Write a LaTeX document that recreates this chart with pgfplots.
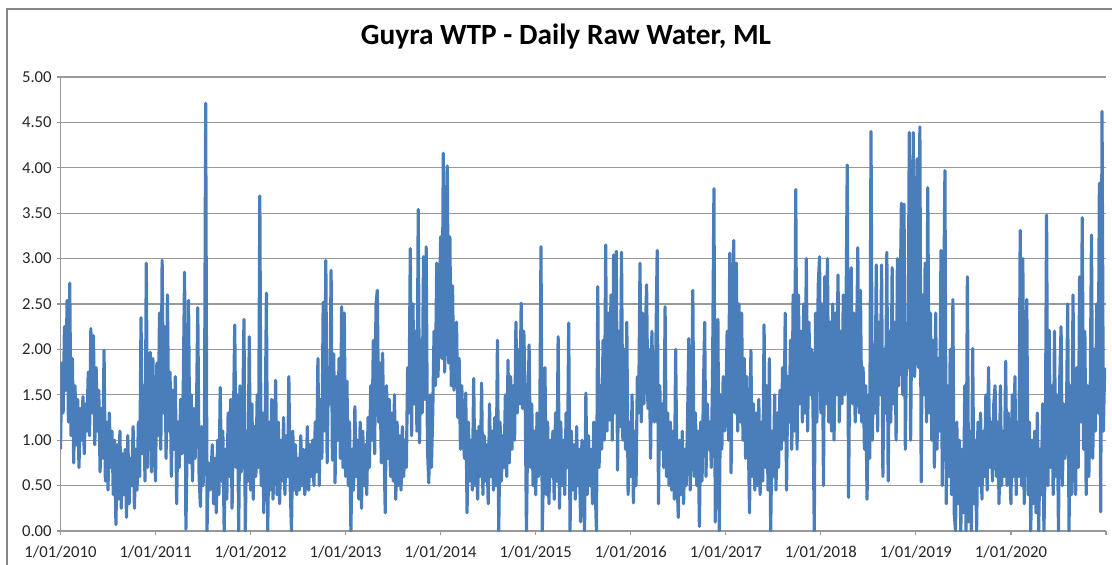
\documentclass[border=0pt]{standalone}
\usepackage{fontspec}
\setmainfont{Carlito}
\usepackage{pgfplots}
\usepackage{pgfplotstable}
\pgfplotsset{compat=1.18}
\definecolor{xlblue}{HTML}{4A7EBB}
\definecolor{xlgrid}{HTML}{999999}
\definecolor{xlborder}{HTML}{868686}

% daily raw water (ML), 6 readings a month, Jan 2010 .. Dec 2020
\pgfplotstableread[row sep=\\]{
v\\
0.90\\1.85\\1.30\\2.25\\1.55\\2.54\\
1.20\\2.73\\1.05\\1.90\\0.75\\1.60\\
0.95\\1.45\\0.70\\1.35\\1.00\\1.48\\
0.85\\1.40\\1.10\\1.75\\1.05\\2.23\\
1.30\\2.15\\0.95\\1.80\\1.10\\1.55\\
0.65\\1.35\\0.80\\1.99\\0.55\\1.20\\
0.45\\1.30\\0.70\\1.10\\0.40\\1.00\\
0.07\\0.95\\0.35\\1.10\\0.25\\0.85\\
0.40\\0.90\\0.15\\1.05\\0.30\\0.80\\
0.50\\1.15\\0.25\\0.90\\0.45\\1.20\\
0.60\\2.35\\0.85\\1.60\\0.55\\2.95\\
0.70\\1.50\\1.97\\0.65\\1.90\\1.00\\
0.55\\1.85\\1.05\\2.40\\0.90\\2.98\\
1.30\\2.25\\0.80\\2.60\\1.10\\1.75\\
0.60\\1.55\\0.90\\1.70\\0.30\\1.20\\
0.70\\1.45\\0.85\\1.60\\2.85\\0.02\\
1.00\\2.54\\0.75\\1.50\\0.55\\1.35\\
0.80\\1.30\\2.46\\0.60\\0.27\\1.15\\
0.50\\0.90\\4.71\\0.00\\0.75\\0.45\\
0.60\\0.95\\0.30\\0.80\\0.20\\1.00\\
0.40\\1.58\\0.55\\1.10\\0.00\\0.90\\
0.35\\1.30\\0.60\\1.45\\0.25\\1.20\\
2.27\\0.70\\1.50\\0.00\\1.60\\0.65\\
1.25\\2.33\\0.00\\1.10\\0.55\\2.14\\
0.45\\1.40\\0.35\\1.15\\0.60\\1.50\\
0.70\\3.69\\0.50\\1.30\\0.20\\1.05\\
2.62\\0.00\\1.20\\0.45\\1.45\\0.35\\
0.85\\1.66\\0.40\\1.20\\0.30\\1.00\\
0.55\\1.25\\0.40\\1.05\\0.60\\1.70\\
0.50\\0.00\\1.10\\0.45\\0.95\\0.40\\
0.80\\0.45\\1.05\\0.50\\0.90\\0.40\\
0.55\\1.15\\0.45\\0.95\\0.60\\1.00\\
0.50\\1.20\\0.65\\1.90\\0.50\\1.45\\
0.80\\2.52\\1.10\\2.98\\0.75\\1.80\\
1.40\\2.87\\0.78\\1.95\\0.53\\1.70\\
1.00\\1.90\\0.80\\2.47\\0.70\\2.40\\
0.60\\1.65\\0.50\\1.20\\0.00\\0.90\\
0.45\\1.37\\0.60\\1.00\\0.35\\1.20\\
0.25\\1.10\\0.50\\0.95\\0.40\\1.25\\
0.70\\1.60\\1.00\\2.10\\0.85\\2.50\\
2.65\\1.20\\1.85\\0.75\\1.96\\1.00\\
0.20\\1.60\\0.80\\1.45\\0.60\\1.30\\
0.55\\1.50\\0.35\\1.20\\0.50\\1.05\\
0.45\\1.15\\0.60\\1.00\\0.70\\1.80\\
1.30\\3.11\\1.05\\2.50\\1.40\\2.20\\
1.10\\3.54\\0.97\\2.10\\1.30\\3.02\\
1.45\\3.13\\0.90\\0.53\\1.50\\0.70\\
1.30\\2.20\\1.60\\2.95\\1.70\\2.40\\
3.24\\1.90\\4.16\\1.75\\2.60\\4.02\\
1.85\\3.24\\1.60\\2.70\\1.55\\2.20\\
2.30\\1.25\\1.90\\0.90\\1.60\\1.10\\
0.80\\1.52\\0.20\\1.20\\0.55\\1.00\\
0.45\\1.68\\0.50\\1.10\\0.35\\1.15\\
0.60\\1.63\\0.40\\1.05\\0.55\\0.95\\
0.30\\1.40\\0.60\\1.10\\0.45\\1.25\\
0.50\\2.10\\0.00\\1.20\\0.55\\1.05\\
0.70\\1.50\\0.60\\1.88\\0.75\\1.70\\
0.90\\1.60\\1.00\\2.30\\1.30\\2.00\\
1.40\\2.51\\1.35\\2.20\\1.50\\0.00\\
1.20\\2.05\\0.70\\1.40\\0.50\\1.10\\
0.40\\1.30\\0.60\\1.05\\3.13\\0.00\\
0.80\\1.80\\0.40\\1.20\\0.30\\1.00\\
0.60\\1.10\\0.35\\1.30\\0.55\\2.14\\
0.25\\1.20\\0.50\\1.00\\0.40\\1.30\\
0.70\\2.29\\0.00\\1.10\\0.45\\0.95\\
0.35\\1.15\\0.50\\0.90\\0.10\\1.00\\
0.60\\0.00\\1.52\\0.40\\1.05\\0.50\\
0.90\\0.30\\1.20\\0.50\\0.00\\2.69\\
0.70\\1.60\\0.90\\2.10\\1.00\\3.15\\
1.10\\2.40\\1.22\\2.60\\1.00\\3.04\\
1.30\\3.08\\0.67\\2.20\\1.15\\3.07\\
1.00\\2.00\\0.90\\2.30\\0.40\\1.20\\
0.60\\1.50\\0.31\\1.10\\0.50\\1.70\\
1.30\\2.95\\1.20\\2.40\\1.40\\2.10\\
2.71\\1.35\\2.00\\0.80\\2.20\\1.50\\
1.20\\2.00\\3.09\\0.30\\1.60\\0.90\\
1.40\\0.70\\2.47\\0.60\\1.30\\0.50\\
1.20\\0.45\\1.10\\0.35\\2.00\\0.60\\
0.15\\1.00\\0.40\\1.10\\0.30\\0.90\\
0.50\\1.20\\2.12\\0.45\\1.00\\2.65\\
0.60\\1.30\\0.50\\1.10\\0.05\\1.20\\
0.55\\1.50\\2.30\\0.60\\1.40\\0.90\\
1.20\\0.70\\1.80\\3.77\\0.10\\1.30\\
2.33\\0.00\\1.50\\0.90\\1.70\\1.10\\
1.40\\2.20\\1.00\\3.06\\0.64\\2.40\\
3.20\\1.30\\2.95\\1.10\\2.50\\1.20\\
2.40\\1.00\\1.90\\0.80\\1.70\\1.05\\
0.20\\1.99\\0.60\\1.40\\0.45\\1.30\\
0.50\\1.45\\0.40\\1.20\\0.55\\2.27\\
0.70\\1.60\\0.45\\1.90\\0.00\\1.10\\
0.60\\1.50\\0.45\\1.30\\0.70\\1.55\\
0.90\\1.80\\1.00\\2.40\\0.45\\1.70\\
1.20\\2.10\\0.90\\2.60\\1.10\\3.76\\
0.90\\2.60\\1.40\\2.20\\1.20\\2.50\\
1.30\\3.00\\1.10\\2.30\\1.50\\2.00\\
1.40\\0.00\\2.40\\1.20\\2.70\\3.02\\
1.30\\2.50\\0.50\\2.80\\1.40\\3.00\\
1.20\\2.30\\1.10\\2.50\\1.00\\2.40\\
1.50\\2.82\\1.20\\2.20\\1.40\\2.60\\
1.50\\2.30\\4.03\\0.37\\2.10\\2.90\\
1.40\\2.40\\1.20\\2.00\\3.12\\1.30\\
2.65\\1.20\\1.80\\0.90\\1.60\\0.35\\
1.50\\0.80\\4.40\\1.00\\2.00\\1.30\\
2.93\\1.10\\2.30\\1.50\\2.93\\0.60\\
2.00\\1.30\\3.07\\0.55\\2.20\\1.20\\
2.90\\1.40\\2.30\\1.00\\3.00\\1.60\\
2.40\\3.61\\1.50\\3.60\\0.90\\2.20\\
1.80\\4.39\\1.00\\2.60\\4.39\\1.70\\
2.20\\4.10\\1.80\\4.45\\0.54\\2.60\\
1.50\\2.95\\1.20\\3.78\\1.30\\2.40\\
1.00\\2.10\\0.70\\2.40\\0.90\\1.90\\
1.10\\3.09\\0.50\\2.40\\3.97\\0.30\\
1.60\\0.60\\2.00\\0.40\\2.55\\0.20\\
0.00\\1.20\\0.30\\1.00\\0.00\\0.90\\
0.20\\1.60\\0.00\\2.80\\0.10\\1.10\\
0.00\\2.01\\0.30\\1.00\\0.00\\1.20\\
0.50\\1.30\\0.35\\1.10\\0.60\\1.50\\
0.45\\1.80\\0.70\\1.20\\0.55\\1.40\\
1.60\\0.60\\1.20\\0.30\\1.60\\0.50\\
1.10\\0.60\\1.87\\0.50\\1.30\\0.70\\
0.30\\1.50\\0.60\\1.70\\0.40\\1.20\\
0.60\\3.31\\0.50\\3.00\\0.30\\1.80\\
2.55\\0.40\\1.20\\0.00\\1.00\\0.30\\
1.10\\0.20\\1.30\\0.00\\0.90\\0.40\\
1.40\\0.00\\0.80\\3.48\\0.50\\2.21\\
0.70\\1.60\\0.40\\2.20\\0.60\\1.50\\
0.00\\1.70\\2.25\\0.50\\1.40\\0.80\\
1.20\\2.50\\0.00\\1.60\\0.40\\2.60\\
1.00\\0.40\\1.80\\0.70\\2.80\\1.20\\
3.45\\0.90\\2.20\\0.40\\1.60\\0.60\\
1.40\\3.26\\0.80\\2.00\\1.10\\2.50\\
1.30\\3.83\\0.21\\4.62\\1.10\\1.80\\
}\rawwater

\begin{document}
\begin{tikzpicture}
\useasboundingbox (-36.3pt,-19.8pt) rectangle (630.9pt,318.6pt);
\begin{axis}[
  width=627.3pt, height=272.4pt, scale only axis,
  xmin=2010, xmax=2021, ymin=0, ymax=5,
  axis x line=bottom, axis y line=left,
  axis line style={-, xlgrid, line width=0.7pt},
  xtick={2010,2011,2012,2013,2014,2015,2016,2017,2018,2019,2020,2021},
  xticklabels={1/01/2010,1/01/2011,1/01/2012,1/01/2013,1/01/2014,1/01/2015,
               1/01/2016,1/01/2017,1/01/2018,1/01/2019,1/01/2020,{}},
  ytick={0,0.5,1,1.5,2,2.5,3,3.5,4,4.5,5},
  ymajorgrids, grid style={xlgrid, line width=0.7pt},
  tick align=outside, major tick length=2.4pt,
  tick style={xlgrid, line width=0.7pt},
  ticklabel style={font=\fontsize{10}{12}\selectfont, text=black!85},
  xticklabel style={yshift=-3pt},
  yticklabel style={xshift=0.6pt, /pgf/number format/fixed,
                    /pgf/number format/fixed zerofill,
                    /pgf/number format/precision=2},
  /pgf/number format/assume math mode=true,
]
\addplot[xlblue, line width=1.9pt, line join=round, no markers]
  table[x expr=2010+\coordindex/72, y=v] {\rawwater};
\end{axis}
\draw[xlborder, line width=1.1pt] (-32.1pt,-30pt) -- (-32.1pt,313.2pt) -- (650pt,313.2pt);
\node[anchor=base, font=\bfseries\fontsize{17.6}{20}\selectfont] at (303.3pt,292.2pt)
  {Guyra WTP - Daily Raw Water, ML};
\end{tikzpicture}
\end{document}
